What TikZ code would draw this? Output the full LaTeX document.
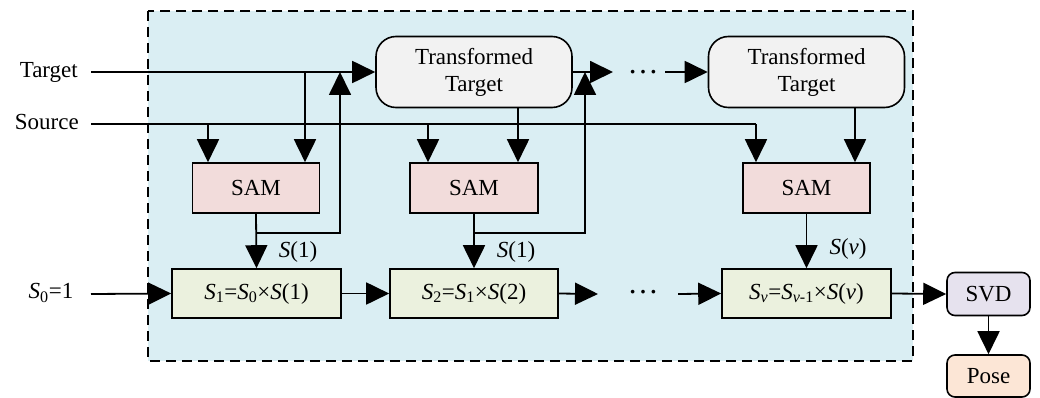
\documentclass[tikz,border=0pt]{standalone}
\usepackage{fontspec}
\setmainfont{Liberation Serif}
\usetikzlibrary{arrows.meta}
\definecolor{bgblue}{HTML}{DAEEF3}
\definecolor{ttgray}{HTML}{F2F2F2}
\definecolor{sampink}{HTML}{F2DCDB}
\definecolor{sgreen}{HTML}{EBF1DE}
\definecolor{svdlav}{HTML}{E6E2EE}
\definecolor{posepeach}{HTML}{FCE6D6}
\newcommand\iS{\textit{S}}
\newcommand\lo[1]{\textsubscript{#1}}
\tikzset{
  line/.style={line width=1.8pt},
  arr/.style={line, -{Triangle[length=23pt,width=22pt]}},
  ttbox/.style={draw, line width=1.6pt, fill=ttgray, rounded corners=20pt,
    minimum width=196pt, minimum height=71pt, align=center, inner sep=0pt},
  sambox/.style={draw, line width=1.6pt, fill=sampink,
    minimum width=127pt, minimum height=50pt, inner sep=0pt},
  sbox/.style={draw, line width=1.6pt, fill=sgreen,
    minimum width=169pt, minimum height=49pt, inner sep=0pt},
  smallbox/.style={draw, line width=1.6pt, rounded corners=8pt,
    minimum width=83pt, minimum height=43pt, inner sep=0pt},
  lbl/.style={inner sep=0pt},
  dotsl/.style={inner sep=0pt, anchor=base, font=\fontsize{31}{31}\selectfont},
}
\begin{document}
\begin{tikzpicture}[x=1pt, y=-1pt, font=\fontsize{23}{27}\selectfont]
\useasboundingbox (0,0) rectangle (1040,398);

% shaded iteration block
\draw[line width=1.6pt, dash pattern=on 10pt off 6pt, fill=bgblue]
  (148,11) rectangle (913,361);

% inputs
\node[lbl, anchor=east] (target) at (78,72) {Target};
\node[lbl, anchor=east] (source) at (79,122) {Source};
\node[lbl] (szero) at (51,293) {\iS\lo{0}=1};
\coordinate (tin) at (91,72);
\coordinate (sin) at (91,124);
\coordinate (zin) at (91,294);

% transformed targets
\node[ttbox] (tt1) at (474,72) {Transformed\\Target};
\node[ttbox] (tt2) at (806.5,72) {Transformed\\Target};

% SAM blocks
\node[sambox] (sam1) at (256,188) {SAM};
\node[sambox, minimum width=128pt] (sam2) at (474,188) {SAM};
\node[sambox] (sam3) at (806.5,188) {SAM};

% accumulation blocks
\node[sbox] (s1) at (256.5,293.5) {\iS\lo{1}=\iS\lo{0}×\iS(1)};
\node[sbox, minimum width=168pt] (s2) at (474,293.5) {\iS\lo{2}=\iS\lo{1}×\iS(2)};
\node[sbox] (sv) at (806.5,293.5) {\iS\lo{\textit{v}}=\iS\lo{\textit{v}-1}×\iS(\textit{v})};

% output
\node[smallbox, fill=svdlav] (svd) at (988.5,294) {SVD};
\node[smallbox, fill=posepeach, minimum height=42pt] (pose) at (988.5,376) {Pose};

% ellipses
\node[dotsl] (dots1) at (643,74) {…};
\node[dotsl] (dots2) at (643,293) {…};

% junction points
\coordinate (tj1) at (305,72);
\coordinate (sj1) at (208,124);
\coordinate (sj2) at (428,124);
\coordinate (send) at (756,124);
\coordinate (fb1) at (256,233);
\coordinate (fbt1) at (340,72);
\coordinate (fb2) at (474,233);
\coordinate (fbt2) at (585,72);
\coordinate (tt1out) at (613,72);
\coordinate (tt2in) at (665,72);
\coordinate (s2out) at (598,294);
\coordinate (svin) at (678,294);
\coordinate (td1) at (518,0);
\coordinate (td2) at (855,0);

% target path
\draw[arr] (tin) -- (tt1.west);
\draw[arr] (tj1) -- (tj1 |- sam1.north);

% source path
\draw[line] (sin) -- (send);
\draw[arr] (sj1) -- (sj1 |- sam1.north);
\draw[arr] (sj2) -- (sj2 |- sam2.north);
\draw[arr] (send) -- (send |- sam3.north);

% transformed targets into SAM
\draw[arr] (td1 |- tt1.south) -- (td1 |- sam2.north);
\draw[arr] (td2 |- tt2.south) -- (td2 |- sam3.north);

% SAM outputs and feedback
\draw[arr] (sam1.south) -- (s1.north);
\draw[arr] (fb1) -| (fbt1);
\draw[arr] (sam2.south) -- (s2.north);
\draw[arr] (fb2) -| (fbt2);
\draw[arr] (sam3.south) -- (sv.north);

\draw[arr] (tt1.east) -- (tt1out);
\draw[arr] (tt2in) -- (tt2.west);

% labels on SAM outputs
\node[lbl] (l1) at (298,252) {\iS(1)};
\node[lbl] (l2) at (516,252) {\iS(1)};
\node[lbl] (lv) at (848,249) {\iS(\textit{v})};

% accumulation chain
\draw[arr] (zin) -- (s1.west);
\draw[arr] (s1.east) -- (s2.west);
\draw[arr] (s2.east) -- (s2out);
\draw[arr] (svin) -- (sv.west);
\draw[arr] (sv.east) -- (svd.west);
\draw[arr] (svd.south) -- (pose.north);
\end{tikzpicture}
\end{document}
